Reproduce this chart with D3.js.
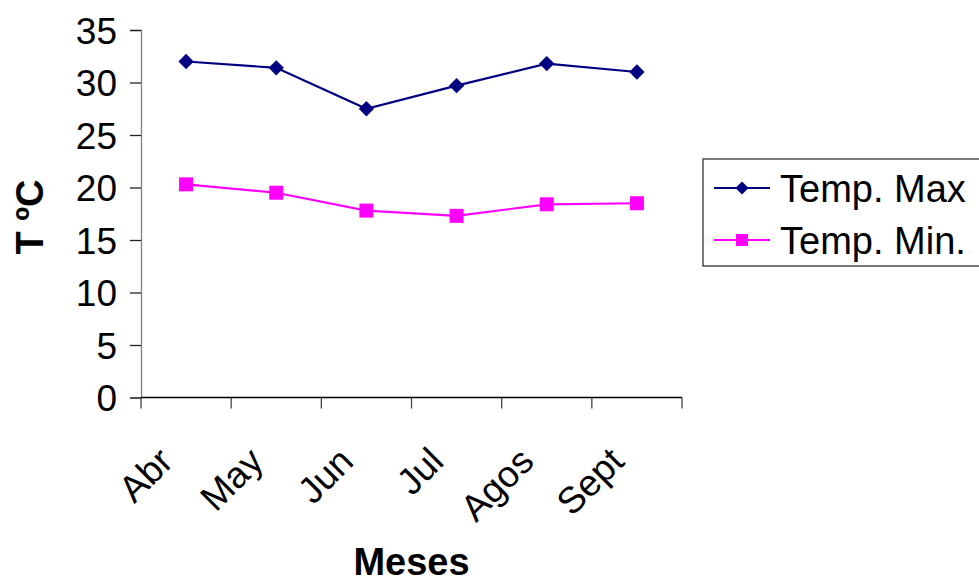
<!DOCTYPE html>
<html>
<head>
<meta charset="utf-8">
<script src="https://cdn.jsdelivr.net/npm/d3@7"></script>
<style>
  body { margin: 0; background: #fff; }
  svg { display: block; font-family: "Liberation Sans", Arial, sans-serif; }
</style>
</head>
<body>
<svg id="chart" width="979" height="578"></svg>
<script>
var months = ['Abr', 'May', 'Jun', 'Jul', 'Agos', 'Sept'];
var tempMax = [32.0, 31.4, 27.5, 29.7, 31.8, 31.0];
var tempMin = [20.3, 19.5, 17.8, 17.3, 18.4, 18.5];
var yTicks = [0, 5, 10, 15, 20, 25, 30, 35];
var seriesNames = ['Temp. Max', 'Temp. Min.'];

var svg = d3.select('#chart');
var plot = { left: 141, right: 682, top: 30, bottom: 397.5 };

var x = d3.scaleBand().domain(months).range([plot.left, plot.right]);
var y = d3.scaleLinear().domain([0, 35]).range([plot.bottom, plot.top]);
var cx = function(d, i) { return x(months[i]) + x.bandwidth() / 2; };

// y axis
var yAxis = svg.append('g')
    .attr('transform', 'translate(' + plot.left + ',0)')
    .call(d3.axisLeft(y).tickValues(yTicks).tickSize(11).tickPadding(13));
yAxis.select('.domain').attr('stroke', '#808080').attr('stroke-width', 1.3);
yAxis.selectAll('.tick line').attr('stroke', '#222').attr('stroke-width', 1.3);
yAxis.selectAll('.tick text').attr('font-size', 37).attr('fill', '#000').attr('dy', '0.36em');

// x axis: ticks at band boundaries
var xAxis = svg.append('g')
    .attr('transform', 'translate(0,' + plot.bottom + ')');
xAxis.append('line')
    .attr('x1', plot.left).attr('x2', plot.right)
    .attr('stroke', '#000').attr('stroke-width', 1.3);
var bounds = months.map(function(m) { return x(m); }).concat([plot.right]);
xAxis.selectAll('.xtick').data(bounds).enter().append('line')
    .attr('class', 'xtick')
    .attr('x1', function(d) { return d; }).attr('x2', function(d) { return d; })
    .attr('y1', 0).attr('y2', 11)
    .attr('stroke', '#444').attr('stroke-width', 1.3);
xAxis.selectAll('.xlabel').data(months).enter().append('text')
    .attr('class', 'xlabel')
    .attr('text-anchor', 'end')
    .attr('font-size', 37)
    .attr('transform', function(d) {
        return 'translate(' + (x(d) + x.bandwidth() / 2 - 11) + ',66) rotate(-45)';
    })
    .text(function(d) { return d; });

// axis titles
svg.append('text')
    .attr('x', (plot.left + plot.right) / 2)
    .attr('y', 575)
    .attr('text-anchor', 'middle')
    .attr('font-size', 38).attr('font-weight', 'bold')
    .text('Meses');
svg.append('text')
    .attr('transform', 'translate(43,217) rotate(-90)')
    .attr('text-anchor', 'middle')
    .attr('font-size', 38).attr('font-weight', 'bold')
    .text('T ºC');

// series
var line = d3.line().x(cx).y(function(d) { return y(d); });
var diamond = d3.symbol().type(d3.symbolDiamond2).size(150);

svg.append('path').datum(tempMax)
    .attr('d', line).attr('fill', 'none')
    .attr('stroke', '#000080').attr('stroke-width', 2.2);
svg.selectAll('.maxpt').data(tempMax).enter().append('path')
    .attr('class', 'maxpt')
    .attr('transform', function(d, i) { return 'translate(' + cx(d, i) + ',' + y(d) + ')'; })
    .attr('d', diamond).attr('fill', '#000080');

svg.append('path').datum(tempMin)
    .attr('d', line).attr('fill', 'none')
    .attr('stroke', '#FF00FF').attr('stroke-width', 2.2);
svg.selectAll('.minpt').data(tempMin).enter().append('rect')
    .attr('class', 'minpt')
    .attr('x', function(d, i) { return cx(d, i) - 7; })
    .attr('y', function(d) { return y(d) - 7; })
    .attr('width', 14).attr('height', 14)
    .attr('fill', '#FF00FF');

// legend
var legend = svg.append('g').attr('transform', 'translate(703,159)');
legend.append('rect')
    .attr('width', 290).attr('height', 107)
    .attr('fill', '#fff').attr('stroke', '#333').attr('stroke-width', 1.3);
var colors = ['#000080', '#FF00FF'];
var rows = legend.selectAll('.lrow').data(seriesNames).enter().append('g')
    .attr('class', 'lrow')
    .attr('transform', function(d, i) { return 'translate(0,' + (29 + i * 52) + ')'; });
rows.append('line')
    .attr('x1', 11).attr('x2', 67)
    .attr('stroke', function(d, i) { return colors[i]; }).attr('stroke-width', 2.2);
rows.each(function(d, i) {
    var g = d3.select(this);
    if (i === 0) {
        g.append('path').attr('transform', 'translate(39,0)')
            .attr('d', d3.symbol().type(d3.symbolDiamond2).size(110)).attr('fill', colors[i]);
    } else {
        g.append('rect').attr('x', 33).attr('y', -6).attr('width', 12).attr('height', 12)
            .attr('fill', colors[i]);
    }
});
rows.append('text')
    .attr('x', 77).attr('dy', '0.36em')
    .attr('font-size', 38)
    .text(function(d) { return d; });
</script>
</body>
</html>
